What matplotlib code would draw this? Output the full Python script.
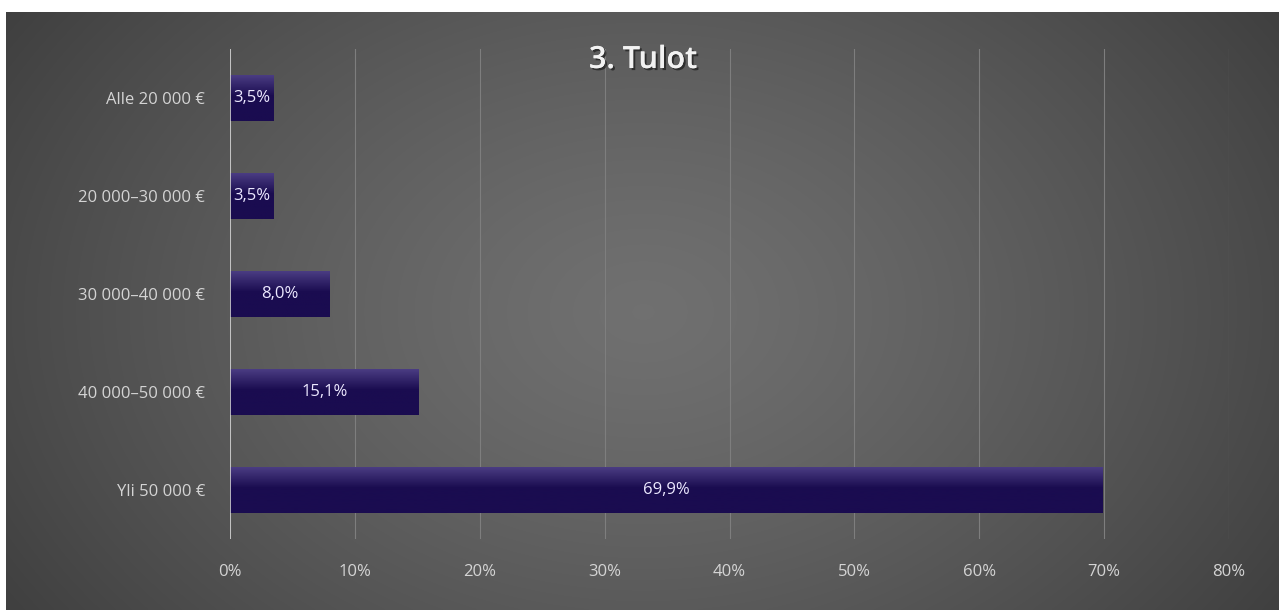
import numpy as np
import matplotlib
matplotlib.use("Agg")
import matplotlib.pyplot as plt
from matplotlib.ticker import FuncFormatter
import matplotlib.patheffects as pe

plt.rcParams['font.family'] = ['Open Sans', 'DejaVu Sans']

categories = ["Alle 20 000 €", "20 000–30 000 €", "30 000–40 000 €", "40 000–50 000 €", "Yli 50 000 €"]
values = [3.5, 3.5, 8.0, 15.1, 69.9]
xticks = [0, 10, 20, 30, 40, 50, 60, 70, 80]
title = "3. Tulot"

W, H = 1279, 610
fig = plt.figure(figsize=(W / 100, H / 100), dpi=100, facecolor="white")

# background panel with radial gradient
bg = fig.add_axes([6 / W, 0, 1 - 6 / W, (H - 12) / H])
bg.set_axis_off()
ny, nx = 300, 640
yy, xx = np.mgrid[0:ny, 0:nx]
cx, cy = nx * 0.50, ny * 0.50
r = np.sqrt(((xx - cx) / (nx * 0.62)) ** 2 + ((yy - cy) / (ny * 0.95)) ** 2)
r = np.clip(r, 0, 1)
lum = 0.44 - 0.20 * r ** 1.3
img = np.dstack([lum, lum, lum])
bg.imshow(img, aspect="auto", extent=[0, 1, 0, 1], interpolation="bilinear")
bg.set_xlim(0, 1)
bg.set_ylim(0, 1)

ax = fig.add_axes([230 / W, 71 / H, (1229 - 230) / W, (561 - 71) / H])
ax.set_facecolor("none")
ypos = np.arange(len(categories))
bars = ax.barh(ypos, values, height=0.46, color="#1e0f58", zorder=3)

# gradient sheen on bars
for b in bars:
    grad = np.linspace(0, 1, 50).reshape(-1, 1)
    cols = np.zeros((50, 1, 3))
    top = np.array([0x4a, 0x3c, 0x82]) / 255
    bot = np.array([0x1a, 0x0c, 0x50]) / 255
    t = np.clip(grad * 2.2, 0, 1)
    cols[:, 0, :] = top * (1 - t) + bot * t
    x0, y0 = b.get_x(), b.get_y()
    w, h = b.get_width(), b.get_height()
    im = ax.imshow(cols, extent=[x0, x0 + w, y0 + h, y0], aspect="auto", zorder=4, origin="upper")
    im.set_clip_path(b)

ax.set_ylim(4.5, -0.5)
ax.set_xlim(0, 80)
ax.set_xticks(xticks)
ax.xaxis.set_major_formatter(FuncFormatter(lambda v, p: f"{int(v)}%"))
ax.set_yticks(ypos)
ax.set_yticklabels(categories)
ax.tick_params(axis="both", length=0, colors="#d4d4d4", labelsize=12)
ax.tick_params(axis="x", pad=18)
ax.tick_params(axis="y", pad=18)
for s in ax.spines.values():
    s.set_visible(False)
ax.grid(axis="x", color="#7e7e7e", linewidth=0.8, zorder=1)
ax.axvline(0, color="#d0d0d0", linewidth=1.2, zorder=5)

for b, v in zip(bars, values):
    lbl = f"{v:.1f}%".replace(".", ",")
    ax.text(b.get_x() + b.get_width() / 2, b.get_y() + b.get_height() / 2, lbl,
            ha="center", va="center", color="#ece8ff", fontsize=12, zorder=6)

fig.text(643 / W, 1 - 60 / H, title, ha="center", va="center", color="#f2f2f2",
         fontsize=22, fontweight="semibold",
         path_effects=[pe.withSimplePatchShadow(offset=(1.5, -1.5), shadow_rgbFace="black", alpha=0.5), pe.Normal()])

fig.savefig("out.png", dpi=100, facecolor="white")
